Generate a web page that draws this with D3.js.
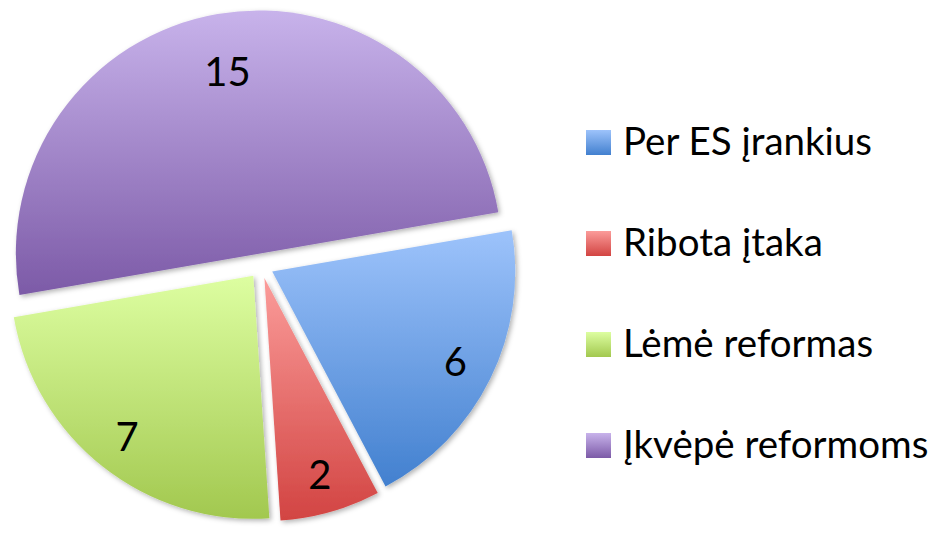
<!DOCTYPE html>
<html>
<head>
<meta charset="utf-8">
<script src="https://cdn.jsdelivr.net/npm/d3@7"></script>
<style>
  body { margin: 0; background: #fff; }
  text { font-family: Lato, "Open Sans", sans-serif; fill: #000; }
</style>
</head>
<body>
<div id="chart"></div>
<script>
var categories = ["Per ES įrankius", "Ribota įtaka", "Lėmė reformas", "Įkvėpė reformoms"];
var values = [6, 2, 7, 15];
var topColors = ["#9dc3fb", "#fb9c9a", "#ddfea1", "#c8b3eb"];
var bottomColors = ["#4280cf", "#d24442", "#a2c84f", "#7c5aa7"];

var w = 942, h = 535;
var cx = 261, cy = 266, R = 243, explode = 12.5;
var startDeg = 80.2;

var svg = d3.select("#chart").append("svg")
    .attr("width", w)
    .attr("height", h);

var defs = svg.append("defs");

// per-slice vertical gradients
categories.forEach(function(c, i) {
    var g = defs.append("linearGradient")
        .attr("id", "grad" + i)
        .attr("x1", 0).attr("y1", 0)
        .attr("x2", 0).attr("y2", 1);
    g.append("stop").attr("offset", "0%").attr("stop-color", topColors[i]);
    g.append("stop").attr("offset", "100%").attr("stop-color", bottomColors[i]);
});

var shadow = defs.append("filter")
    .attr("id", "shadow")
    .attr("x", "-10%").attr("y", "-10%")
    .attr("width", "120%").attr("height", "120%");
shadow.append("feDropShadow")
    .attr("dx", 2).attr("dy", 2)
    .attr("stdDeviation", 2.5)
    .attr("flood-color", "#000")
    .attr("flood-opacity", 0.3);

var data = categories.map(function(c, i) { return {name: c, value: values[i], i: i}; });

var a0 = startDeg * Math.PI / 180;
var pie = d3.pie()
    .sort(null)
    .value(function(d) { return d.value; })
    .startAngle(a0)
    .endAngle(a0 + 2 * Math.PI);

var arc = d3.arc().innerRadius(0).outerRadius(R);

var arcs = pie(data);

// label distance from slice tip, as fraction of radius
var labelFrac = function(d) { return d.data.value > 10 ? 0.76 : 0.84; };

var slices = svg.append("g")
    .attr("transform", "translate(" + cx + "," + cy + ")")
    .selectAll("g")
    .data(arcs)
    .enter()
    .append("g")
        .attr("transform", function(d) {
            var m = (d.startAngle + d.endAngle) / 2;
            return "translate(" + (Math.sin(m) * explode) + "," + (-Math.cos(m) * explode) + ")";
        });

slices.append("path")
    .attr("d", arc)
    .attr("fill", function(d) { return "url(#grad" + d.data.i + ")"; })
    .attr("filter", "url(#shadow)");

slices.append("text")
    .attr("x", function(d) {
        var m = (d.startAngle + d.endAngle) / 2;
        return Math.sin(m) * R * labelFrac(d);
    })
    .attr("y", function(d) {
        var m = (d.startAngle + d.endAngle) / 2;
        return -Math.cos(m) * R * labelFrac(d);
    })
    .attr("dy", "0.36em")
    .style("text-anchor", "middle")
    .style("font-size", "40px")
    .text(function(d) { return d.data.value; });

// legend
var legend = svg.append("g")
    .attr("transform", "translate(586,130)");

var item = legend.selectAll("g")
    .data(data)
    .enter()
    .append("g")
        .attr("transform", function(d, i) { return "translate(0," + (i * 101) + ")"; });

item.append("rect")
    .attr("width", 25)
    .attr("height", 25)
    .attr("fill", function(d) { return "url(#grad" + d.i + ")"; });

item.append("text")
    .attr("x", 37)
    .attr("y", 25)
    .style("font-size", "38.5px")
    .text(function(d) { return d.name; });
</script>
</body>
</html>
